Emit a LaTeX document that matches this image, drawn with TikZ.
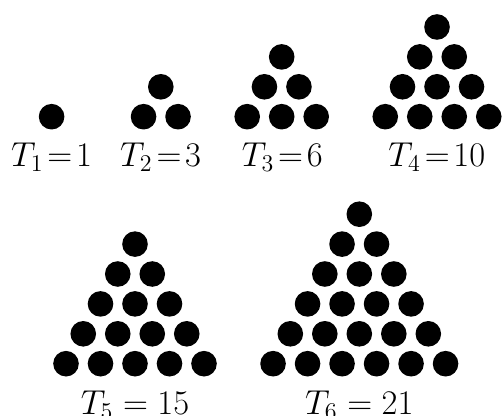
\documentclass[tikz,border=0pt]{standalone}
\begin{document}
\begin{tikzpicture}[x=0.5pt,y=-0.5pt,
  dot/.style={circle,fill=black,draw=none,inner sep=0pt,minimum size=12.8pt},
  lab/.style={anchor=base,inner sep=0pt,font=\fontsize{16.5}{20}\selectfont}]
\useasboundingbox (0,0) rectangle (502,416);
\foreach \n/\cx/\by in {1/51.6/116.7, 2/160.8/116.7, 3/281.7/116.7, 4/437/116.7, 5/135/363.7, 6/359.3/363.7} {
  \foreach \r in {1,...,\n} {
    \foreach \k in {1,...,\r} {
      \node[dot] (d\n-\r-\k) at ({\cx+(\k-(\r+1)/2)*34.5}, {\by-(\n-\r)*29.9}) {};
    }
  }
}
\node[lab] (t1) at (51.5,166.7) {$T_1\!=\!1$};
\node[lab] (t2) at (160.6,166.7) {$T_2\!=\!3$};
\node[lab] (t3) at (282.3,166.7) {$T_3\!=\!6$};
\node[lab] (t4) at (436.8,166.7) {$T_4\!=\!10$};
\node[lab] (t5) at (135,414.5) {$T_5 = 15$};
\node[lab] (t6) at (359.3,414.5) {$T_6 = 21$};
\end{tikzpicture}
\end{document}
